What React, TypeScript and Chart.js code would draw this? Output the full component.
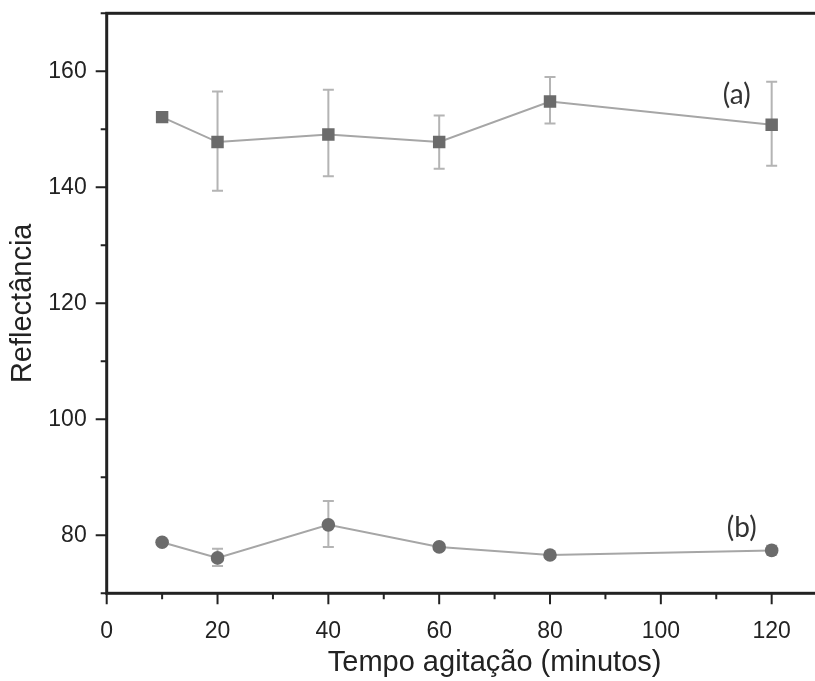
import React, { useEffect, useRef } from "react";
import { Chart, registerables } from "chart.js";

Chart.register(...registerables);

// ---- data ----
const times = [10, 20, 40, 60, 80, 120];
const seriesA = [152.1, 147.8, 149.1, 147.8, 154.8, 150.8];
const seriesALow = [152.1, 139.4, 141.9, 143.2, 151.0, 143.7];
const seriesAHigh = [152.1, 156.5, 156.8, 152.4, 159.0, 158.2];
const seriesB = [78.8, 76.1, 81.8, 78.0, 76.6, 77.4];
const seriesBLow = [78.8, 74.7, 78.0, 78.0, 76.6, 76.7];
const seriesBHigh = [78.8, 77.7, 85.9, 78.0, 76.6, 78.2];

const seriesNames = ["(a)", "(b)"];
const seriesNameX = [113.7, 114.6];
const seriesNameY = [155.9, 81.2];

const xMajorTicks = [0, 20, 40, 60, 80, 100, 120, 140];
const xMinorTicks = [10, 30, 50, 70, 90, 110, 130];
const xLabelTicks = [0, 20, 40, 60, 80, 100, 120];
const yMajorTicks = [80, 100, 120, 140, 160];
const yMinorTicks = [70, 90, 110, 130, 150, 170];

const xTitle = "Tempo agitação (minutos)";
const yTitle = "Reflectância";

const AXIS = "#222222";
const LINE = "#a6a6a6";
const MARK = "#6b6b6b";
const ERR = "#b4b4b4";

const errorBars = [
  { low: seriesALow, high: seriesAHigh },
  { low: seriesBLow, high: seriesBHigh },
];

const customPlugin = {
  id: "customPlugin",
  beforeDatasetsDraw(chart: any) {
    const ctx = chart.ctx;
    const xs = chart.scales.x;
    const ys = chart.scales.y;
    ctx.save();
    ctx.strokeStyle = ERR;
    ctx.lineWidth = 2;
    errorBars.forEach((eb) => {
      times.forEach((t, i) => {
        if (eb.high[i] - eb.low[i] < 0.01) return;
        const px = xs.getPixelForValue(t);
        const p1 = ys.getPixelForValue(eb.low[i]);
        const p2 = ys.getPixelForValue(eb.high[i]);
        ctx.beginPath();
        ctx.moveTo(px, p1);
        ctx.lineTo(px, p2);
        ctx.moveTo(px - 5.5, p1);
        ctx.lineTo(px + 5.5, p1);
        ctx.moveTo(px - 5.5, p2);
        ctx.lineTo(px + 5.5, p2);
        ctx.stroke();
      });
    });
    ctx.restore();
  },
  afterDraw(chart: any) {
    const ctx = chart.ctx;
    const { left, right, top, bottom } = chart.chartArea;
    const xs = chart.scales.x;
    const ys = chart.scales.y;
    ctx.save();
    // ticks
    ctx.strokeStyle = AXIS;
    ctx.lineWidth = 2;
    ctx.beginPath();
    xMajorTicks.forEach((v) => {
      const p = xs.getPixelForValue(v);
      ctx.moveTo(p, bottom);
      ctx.lineTo(p, bottom + 11);
    });
    xMinorTicks.forEach((v) => {
      const p = xs.getPixelForValue(v);
      ctx.moveTo(p, bottom);
      ctx.lineTo(p, bottom + 6);
    });
    yMajorTicks.forEach((v) => {
      const p = ys.getPixelForValue(v);
      ctx.moveTo(left, p);
      ctx.lineTo(left - 11, p);
    });
    yMinorTicks.forEach((v) => {
      const p = ys.getPixelForValue(v);
      ctx.moveTo(left, p);
      ctx.lineTo(left - 6, p);
    });
    ctx.stroke();
    // frame
    ctx.lineWidth = 3;
    ctx.strokeRect(left, top, right - left, bottom - top);
    // series labels
    ctx.fillStyle = "#333333";
    ctx.font = "28px Lato";
    ctx.textAlign = "center";
    ctx.textBaseline = "middle";
    seriesNames.forEach((n, i) => {
      ctx.fillText(n, xs.getPixelForValue(seriesNameX[i]), ys.getPixelForValue(seriesNameY[i]));
    });
    ctx.restore();
  },
};

export default function App() {
  const ref = useRef<HTMLCanvasElement | null>(null);
  useEffect(() => {
    if (!ref.current) return;
    const chart = new Chart(ref.current, {
      type: "line",
      data: {
        datasets: [
          {
            label: "a",
            data: times.map((t, i) => ({ x: t, y: seriesA[i] })),
            borderColor: LINE,
            borderWidth: 2,
            backgroundColor: MARK,
            pointStyle: "rect",
            pointRadius: 8.8,
            pointBackgroundColor: MARK,
            pointBorderColor: MARK,
            pointBorderWidth: 0,
            tension: 0,
          },
          {
            label: "b",
            data: times.map((t, i) => ({ x: t, y: seriesB[i] })),
            borderColor: LINE,
            borderWidth: 2,
            backgroundColor: MARK,
            pointStyle: "circle",
            pointRadius: 6.8,
            pointBackgroundColor: MARK,
            pointBorderColor: MARK,
            pointBorderWidth: 0,
            tension: 0,
          },
        ],
      },
      options: {
        animation: false,
        responsive: false,
        devicePixelRatio: 1,
        layout: { padding: { left: 0, top: 13.3, right: 17.5, bottom: 0 } },
        plugins: { legend: { display: false }, tooltip: { enabled: false } },
        scales: {
          x: {
            type: "linear",
            min: 0,
            max: 140,
            grid: { display: false },
            border: { display: false },
            afterBuildTicks: (s: any) => {
              s.ticks = xLabelTicks.map((v) => ({ value: v }));
            },
            afterFit: (s: any) => {
              s.height = 87.7;
            },
            ticks: {
              padding: 18.5,
              color: AXIS,
              maxRotation: 0,
              autoSkip: false,
              font: { family: "Liberation Sans", size: 23, lineHeight: 1 },
            },
            title: {
              display: true,
              text: xTitle,
              color: AXIS,
              font: { family: "Liberation Sans", size: 29 },
              padding: { top: 0, bottom: 1 },
            },
          },
          y: {
            type: "linear",
            min: 70,
            max: 170,
            grid: {
              display: true,
              drawOnChartArea: false,
              drawTicks: true,
              tickLength: 20,
              color: "rgba(0,0,0,0)",
              tickColor: "rgba(0,0,0,0)",
            },
            border: { display: false },
            afterBuildTicks: (s: any) => {
              s.ticks = yMajorTicks.map((v) => ({ value: v }));
            },
            afterFit: (s: any) => {
              s.width = 106.7;
            },
            ticks: {
              padding: 0,
              color: AXIS,
              autoSkip: false,
              font: { family: "Liberation Sans", size: 23, lineHeight: 1 },
            },
            title: {
              display: true,
              text: yTitle,
              color: AXIS,
              font: { family: "Liberation Sans", size: 29 },
              padding: { top: 5.6, bottom: 0 },
            },
          },
        },
      },
      plugins: [customPlugin],
    });
    return () => chart.destroy();
  }, []);
  return (
    <div
      style={{
        position: "absolute",
        left: 0,
        top: 0,
        width: 815,
        height: 681,
        overflow: "hidden",
        background: "#fff",
      }}
    >
      <canvas ref={ref} width={900} height={681} style={{ width: 900, height: 681, display: "block" }} />
    </div>
  );
}
